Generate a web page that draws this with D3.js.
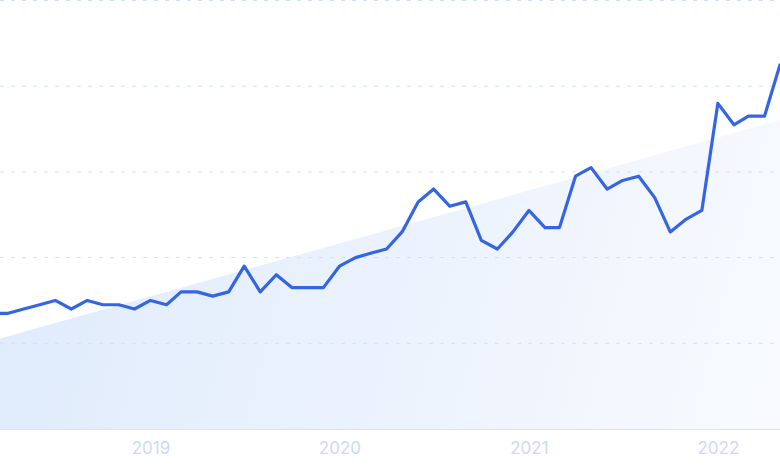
<!DOCTYPE html>
<html>
<head>
<meta charset="utf-8">
<script src="https://cdn.jsdelivr.net/npm/d3@7"></script>
<style>
  html, body { margin: 0; padding: 0; background: #fff; overflow: hidden; }
  svg { display: block; }
</style>
</head>
<body>
<div id="chart"></div>
<script>
// monthly values, Mar 2018 -> May 2022
const startMonth = [2018, 2];
const values = [
  27, 27, 28, 29, 30, 28, 30, 29, 29, 28,
  30, 29, 32, 32, 31, 32, 38, 32, 36, 33, 33, 33,
  38, 40, 41, 42, 46, 53, 56, 52, 53, 44, 42, 46,
  51, 47, 47, 59, 61, 56, 58, 59, 54, 46, 49, 51,
  76, 71, 73, 73, 85
];
// linear trend, value at first and last month
const trendValues = [20.6, 72.1];
const yearTicks = [2019, 2020, 2021, 2022];
const gridTicks = [20, 40, 60, 80, 100];

const months = values.map((v, i) => new Date(startMonth[0], startMonth[1] + i, 1));
const data = values.map((v, i) => ({ date: months[i], value: v }));

class TrendChart
{
    constructor(config)
    {
        this.config = config;
        this.createSvg();
        this.createScales();
        this.drawTrend();
        this.drawGrid();
        this.drawAxis();
        this.drawLine();
    }

    createSvg()
    {
        this.svg = d3.select(this.config.div)
            .append("svg")
            .attr("width", this.config.width)
            .attr("height", this.config.height);
    }

    createScales()
    {
        // Jan 2019 sits at x~150, the last month reaches the right edge
        this.xScale = d3.scaleTime()
            .domain([new Date(2019, 0, 1), months[months.length - 1]])
            .range([150.5, 780]);

        this.yScale = d3.scaleLinear()
            .domain([0, 100])
            .range([this.config.baseline, 0.5]);
    }

    drawTrend()
    {
        const grad = this.svg.append("defs")
            .append("linearGradient")
            .attr("id", "trendFill")
            .attr("gradientUnits", "userSpaceOnUse")
            .attr("x1", 0).attr("y1", 230)
            .attr("x2", 780).attr("y2", 430);
        grad.append("stop").attr("offset", "0%").attr("stop-color", "#dfebfc");
        grad.append("stop").attr("offset", "100%").attr("stop-color", "#f8fafe");

        const first = months[0], last = months[months.length - 1];
        const trend = [
            { date: first, lo: 0, hi: trendValues[0] },
            { date: last, lo: 0, hi: trendValues[1] }
        ];

        const area = d3.area()
            .x(d => this.xScale(d.date))
            .y0(d => this.yScale(d.lo))
            .y1(d => this.yScale(d.hi));

        this.svg.append("path")
            .datum(trend)
            .attr("d", area)
            .attr("fill", "url(#trendFill)");
    }

    drawGrid()
    {
        this.svg.append("g")
            .selectAll("line")
            .data(gridTicks)
            .join("line")
            .attr("x1", 0)
            .attr("x2", this.config.width)
            .attr("y1", d => this.yScale(d))
            .attr("y2", d => this.yScale(d))
            .attr("stroke", "#cfe0fa")
            .attr("stroke-width", 1)
            .attr("stroke-dasharray", "4,7");
    }

    drawAxis()
    {
        const xAxis = d3.axisBottom(this.xScale)
            .tickValues(yearTicks.map(y => new Date(y, 0, 1)))
            .tickFormat(d3.timeFormat("%Y"))
            .tickSize(0)
            .tickPadding(13);

        const g = this.svg.append("g")
            .attr("transform", `translate(0,${this.config.baseline})`)
            .call(xAxis);

        g.select(".domain")
            .attr("d", `M0,0.5H${this.config.width}`)
            .attr("stroke", "#d7e3f9");

        g.selectAll("text")
            .attr("fill", "#cdd9f5")
            .style("font-family", "Inter, 'Noto Sans', sans-serif")
            .style("font-size", "17px");
    }

    drawLine()
    {
        const line = d3.line()
            .x(d => this.xScale(d.date))
            .y(d => this.yScale(d.value));

        this.svg.append("path")
            .datum(data)
            .attr("d", line)
            .attr("fill", "none")
            .attr("stroke", "#3466e4")
            .attr("stroke-width", 3.2)
            .attr("stroke-linejoin", "round")
            .attr("stroke-linecap", "round");
    }
}

new TrendChart({ div: "#chart", width: 780, height: 470, baseline: 429 });
</script>
</body>
</html>
